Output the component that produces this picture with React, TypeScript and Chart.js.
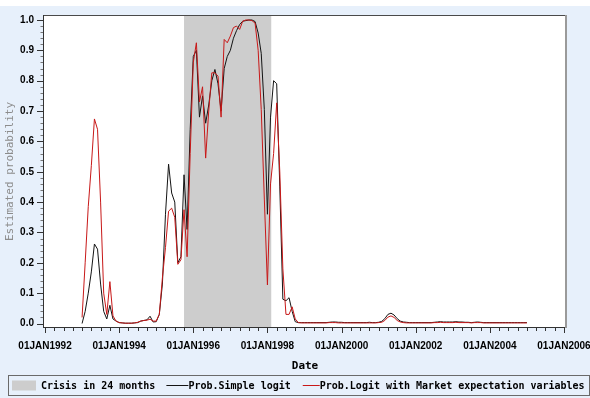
import React, { useEffect, useRef } from 'react';
import { Chart, registerables } from 'chart.js';

Chart.register(...registerables);

// ---- Data (monthly, Jan 1993 .. Jan 2005) ----
const START_YEAR = 1993;

const SIMPLE_LOGIT = [
  // 1993
  0.000, 0.040, 0.100, 0.170, 0.262, 0.245, 0.130, 0.040, 0.015, 0.060, 0.015, 0.008,
  // 1994
  0.003, 0.002, 0.001, 0.001, 0.001, 0.002, 0.003, 0.008, 0.010, 0.012, 0.024, 0.005,
  // 1995
  0.006, 0.030, 0.130, 0.360, 0.525, 0.430, 0.400, 0.200, 0.220, 0.490, 0.310, 0.640,
  // 1996
  0.880, 0.900, 0.680, 0.750, 0.660, 0.720, 0.800, 0.837, 0.790, 0.700, 0.840, 0.880,
  // 1997
  0.900, 0.940, 0.965, 0.985, 0.996, 0.998, 1.000, 1.000, 0.995, 0.957, 0.890, 0.705,
  // 1998
  0.360, 0.680, 0.800, 0.790, 0.450, 0.080, 0.075, 0.085, 0.040, 0.006, 0.003, 0.003,
  // 1999
  0.003, 0.003, 0.003, 0.003, 0.003, 0.003, 0.003, 0.003, 0.004, 0.005, 0.005, 0.004,
  // 2000
  0.004, 0.003, 0.003, 0.003, 0.003, 0.003, 0.003, 0.003, 0.003, 0.004, 0.003, 0.003,
  // 2001
  0.004, 0.007, 0.016, 0.030, 0.034, 0.028, 0.016, 0.008, 0.005, 0.004, 0.003, 0.003,
  // 2002
  0.003, 0.003, 0.003, 0.003, 0.003, 0.003, 0.004, 0.005, 0.006, 0.005, 0.005, 0.005,
  // 2003
  0.005, 0.006, 0.005, 0.005, 0.004, 0.004, 0.003, 0.004, 0.005, 0.004, 0.003, 0.003,
  // 2004
  0.003, 0.003, 0.003, 0.003, 0.003, 0.003, 0.003, 0.003, 0.003, 0.003, 0.003, 0.003,
  // 2005
  0.003,
];

const MARKET_LOGIT = [
  // 1993
  0.020, 0.200, 0.385, 0.520, 0.674, 0.640, 0.400, 0.100, 0.030, 0.138, 0.025, 0.008,
  // 1994
  0.003, 0.002, 0.001, 0.001, 0.001, 0.002, 0.004, 0.008, 0.010, 0.011, 0.014, 0.008,
  // 1995
  0.008, 0.030, 0.150, 0.250, 0.370, 0.380, 0.350, 0.195, 0.210, 0.375, 0.220, 0.560,
  // 1996
  0.860, 0.925, 0.730, 0.780, 0.545, 0.700, 0.826, 0.826, 0.815, 0.680, 0.936, 0.925,
  // 1997
  0.947, 0.975, 0.980, 0.969, 0.996, 1.000, 1.000, 0.998, 0.990, 0.900, 0.705, 0.410,
  // 1998
  0.127, 0.460, 0.560, 0.727, 0.500, 0.180, 0.030, 0.030, 0.055, 0.015, 0.003, 0.002,
  // 1999
  0.002, 0.002, 0.002, 0.002, 0.002, 0.002, 0.002, 0.002, 0.003, 0.003, 0.003, 0.002,
  // 2000
  0.002, 0.002, 0.002, 0.002, 0.002, 0.002, 0.002, 0.002, 0.002, 0.002, 0.002, 0.002,
  // 2001
  0.003, 0.004, 0.010, 0.021, 0.025, 0.020, 0.010, 0.005, 0.003, 0.002, 0.002, 0.002,
  // 2002
  0.002, 0.002, 0.002, 0.002, 0.002, 0.002, 0.003, 0.003, 0.004, 0.003, 0.003, 0.003,
  // 2003
  0.003, 0.004, 0.003, 0.003, 0.003, 0.003, 0.002, 0.003, 0.003, 0.003, 0.002, 0.002,
  // 2004
  0.002, 0.002, 0.002, 0.002, 0.002, 0.002, 0.002, 0.002, 0.002, 0.002, 0.002, 0.002,
  // 2005
  0.002,
];

const CRISIS_START = 1995.75;
const CRISIS_END = 1998.11;

const X_MIN = 1991.946;
const X_MAX = 2006.081;
const Y_MIN = -0.0148;
const Y_MAX = 1.0165;

const X_LABEL_YEARS = [1992, 1994, 1996, 1998, 2000, 2002, 2004, 2006];
const Y_TICKS = [0, 0.1, 0.2, 0.3, 0.4, 0.5, 0.6, 0.7, 0.8, 0.9, 1.0];

const CRISIS_LABEL = 'Crisis in 24 months';
const SIMPLE_LABEL = 'Prob.Simple logit';
const MARKET_LABEL = 'Prob.Logit with Market expectation variables';

const MONTHS = SIMPLE_LOGIT.map((_, i) => START_YEAR + i / 12);

// ---- Styles ----
const BG_BLUE = '#e7f0fb';
const CRISIS_GRAY = '#cdcdcd';
const BLACK_LINE = '#141414';
const RED_LINE = '#c81818';
const MONO = '"DejaVu Sans Mono", monospace';
const SANS = '"Liberation Sans", Arial, sans-serif';

const backgroundPlugin = {
  id: 'bgPlugin',
  beforeDraw(chart: any) {
    const { ctx, width, height, chartArea } = chart;
    ctx.save();
    ctx.fillStyle = BG_BLUE;
    ctx.fillRect(0, 0, width, height);
    ctx.fillStyle = '#ffffff';
    ctx.fillRect(0, 0, width, 6);
    ctx.fillRect(chartArea.left, chartArea.top, chartArea.right - chartArea.left, chartArea.bottom - chartArea.top);
    ctx.restore();
  },
};

const framePlugin = {
  id: 'framePlugin',
  afterDraw(chart: any) {
    const { ctx, chartArea } = chart;
    const { left, top, right, bottom } = chartArea;
    const x = chart.scales.x;
    const y = chart.scales.y;
    ctx.save();
    ctx.lineWidth = 1;
    ctx.strokeStyle = '#4a4a4a';
    ctx.beginPath();
    ctx.moveTo(left, top + 0.5);
    ctx.lineTo(right, top + 0.5);
    ctx.stroke();
    ctx.strokeStyle = '#333333';
    ctx.beginPath();
    ctx.moveTo(left + 0.5, top);
    ctx.lineTo(left + 0.5, bottom);
    ctx.moveTo(left, bottom - 0.5);
    ctx.lineTo(right, bottom - 0.5);
    ctx.stroke();
    ctx.strokeStyle = '#9a9a9a';
    ctx.lineWidth = 2;
    ctx.beginPath();
    ctx.moveTo(right - 1, top);
    ctx.lineTo(right - 1, bottom);
    ctx.stroke();

    ctx.lineWidth = 1;
    ctx.strokeStyle = '#333333';
    x.ticks.forEach((t: any) => {
      const px = Math.round(x.getPixelForValue(t.value)) + 0.5;
      const major = X_LABEL_YEARS.includes(t.value);
      ctx.beginPath();
      ctx.moveTo(px, bottom);
      ctx.lineTo(px, bottom + (major ? 5 : 3));
      ctx.stroke();
    });
    for (let i = 0; i <= 50; i++) {
      const v = i / 50;
      const py = Math.round(y.getPixelForValue(v)) + 0.5;
      const major = i % 5 === 0;
      ctx.strokeStyle = major ? '#333333' : '#777777';
      ctx.beginPath();
      ctx.moveTo(left, py);
      ctx.lineTo(left - (major ? 6 : 2.5), py);
      ctx.stroke();
    }
    ctx.restore();
  },
};

const legendPlugin = {
  id: 'boxLegend',
  afterDraw(chart: any) {
    const { ctx } = chart;
    const ds = chart.data.datasets;
    const cy = 385.5;
    ctx.save();
    ctx.strokeStyle = '#6a6a6a';
    ctx.lineWidth = 1;
    ctx.strokeRect(8.5, 375.5, 581, 20);
    ctx.font = 'bold 10px ' + MONO;
    ctx.textBaseline = 'middle';
    let xp = 12;
    ctx.fillStyle = ds[0].backgroundColor;
    ctx.fillRect(xp, cy - 5, 24, 10);
    xp += 29;
    ctx.fillStyle = '#000';
    ctx.fillText(ds[0].label, xp, cy + 0.5);
    xp += ctx.measureText(ds[0].label).width + 11;
    const lineLens = [22, 17];
    const gaps = [12, 0];
    [1, 2].forEach((k, j) => {
      ctx.strokeStyle = ds[k].borderColor;
      ctx.beginPath();
      ctx.moveTo(xp, cy);
      ctx.lineTo(xp + lineLens[j], cy);
      ctx.stroke();
      xp += lineLens[j];
      ctx.fillStyle = '#000';
      ctx.fillText(ds[k].label, xp, cy + 0.5);
      xp += ctx.measureText(ds[k].label).width + gaps[j];
    });
    ctx.restore();
  },
};

export default function App() {
  const canvasRef = useRef<HTMLCanvasElement | null>(null);

  useEffect(() => {
    document.body.style.margin = '0';
    const canvas = canvasRef.current;
    if (!canvas) return;
    const chart = new Chart(canvas, {
      type: 'line',
      data: {
        datasets: [
          {
            label: CRISIS_LABEL,
            data: [
              { x: CRISIS_START, y: Y_MAX },
              { x: CRISIS_END, y: Y_MAX },
            ],
            fill: 'start',
            backgroundColor: CRISIS_GRAY,
            borderColor: CRISIS_GRAY,
            borderWidth: 0,
            pointRadius: 0,
            order: 3,
          },
          {
            label: SIMPLE_LABEL,
            data: MONTHS.map((m, i) => ({ x: m, y: SIMPLE_LOGIT[i] })),
            borderColor: BLACK_LINE,
            backgroundColor: BLACK_LINE,
            borderWidth: 1,
            pointRadius: 0,
            fill: false,
            tension: 0,
            order: 2,
          },
          {
            label: MARKET_LABEL,
            data: MONTHS.map((m, i) => ({ x: m, y: MARKET_LOGIT[i] })),
            borderColor: RED_LINE,
            backgroundColor: RED_LINE,
            borderWidth: 1,
            pointRadius: 0,
            fill: false,
            tension: 0,
            order: 1,
          },
        ],
      },
      options: {
        animation: false,
        responsive: false,
        maintainAspectRatio: false,
        layout: { padding: { left: 0, right: 23, top: 15, bottom: 25 } },
        plugins: {
          legend: { display: false },
          tooltip: { enabled: false },
        },
        scales: {
          x: {
            type: 'linear',
            min: X_MIN,
            max: X_MAX,
            afterBuildTicks: (s: any) => {
              const t = [];
              for (let v = X_LABEL_YEARS[0]; v <= X_LABEL_YEARS[X_LABEL_YEARS.length - 1]; v += 0.25) t.push({ value: v });
              s.ticks = t;
            },
            afterFit: (s: any) => {
              s.height = 45;
              s.paddingLeft = 0;
              s.paddingRight = 0;
            },
            ticks: {
              autoSkip: false,
              maxRotation: 0,
              minRotation: 0,
              padding: 12,
              color: '#000',
              font: { family: SANS, weight: 'bold', size: 10 },
              callback: (v: any) => (X_LABEL_YEARS.includes(Number(v)) ? '01JAN' + v : ''),
            },
            grid: { display: false, drawTicks: false, drawOnChartArea: false },
            border: { display: false },
            title: {
              display: true,
              text: 'Date',
              color: '#000',
              font: { family: MONO, weight: 'bold', size: 11 },
              padding: { top: 0, bottom: 0 },
            },
          },
          y: {
            type: 'linear',
            min: Y_MIN,
            max: Y_MAX,
            afterBuildTicks: (s: any) => {
              s.ticks = Y_TICKS.map((v) => ({ value: v }));
            },
            afterFit: (s: any) => {
              s.width = 43;
              s.paddingTop = 0;
              s.paddingBottom = 0;
            },
            ticks: {
              padding: 9,
              color: '#000',
              font: { family: SANS, weight: 'bold', size: 10 },
              callback: (v: any) => Number(v).toFixed(1),
            },
            grid: { display: false, drawTicks: false, drawOnChartArea: false },
            border: { display: false },
            title: {
              display: true,
              text: 'Estimated probability',
              color: '#8c8c8c',
              font: { family: MONO, size: 11 },
              padding: { top: 4, bottom: 0 },
            },
          },
        },
      } as any,
      plugins: [backgroundPlugin, framePlugin, legendPlugin],
    });
    return () => chart.destroy();
  }, []);

  return (
    <div style={{ width: 590, height: 398 }}>
      <canvas ref={canvasRef} width={590} height={398} style={{ display: 'block' }} />
    </div>
  );
}
